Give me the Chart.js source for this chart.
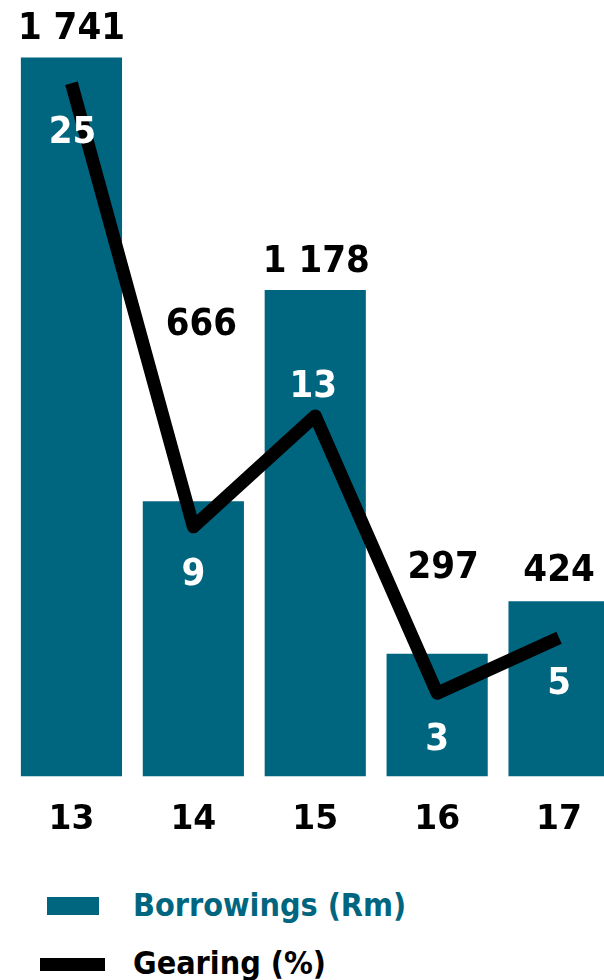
<!DOCTYPE html>
<html>
<head>
<meta charset="utf-8">
<script src="https://cdn.jsdelivr.net/npm/chart.js@4.4.1/dist/chart.umd.min.js"></script>
<style>
  html, body { margin: 0; padding: 0; background: #fff; overflow: hidden; width: 604px; height: 980px; }
  #wrap { position: relative; width: 604px; height: 980px; overflow: hidden; }
  #chart { position: absolute; left: 0; top: 0; }
  .legend-item { position: absolute; left: 0; font-family: "DejaVu Sans", Verdana, sans-serif; font-weight: bold; font-size: 32px; white-space: nowrap; }
  .legend-item span.txt { position: absolute; left: 133px; transform-origin: left center; transform: scaleX(0.9); }
  .swatch { position: absolute; }
</style>
</head>
<body>
<div id="wrap">
  <canvas id="chart" width="620" height="884"></canvas>
  <div class="legend-item" style="top:886px;">
    <div class="swatch" style="left:47px;top:11px;width:52px;height:18px;background:#006680;"></div>
    <span class="txt" style="top:0;color:#006680;">Borrowings (Rm)</span>
  </div>
  <div class="legend-item" style="top:944px;">
    <div class="swatch" style="left:40px;top:14px;width:65px;height:13px;background:#000;"></div>
    <span class="txt" style="top:0;color:#000;">Gearing (%)</span>
  </div>
</div>
<script>
const years = ['13', '14', '15', '16', '17'];
const borrowings = [1741, 666, 1178, 297, 424];
const gearing = [25, 9, 13, 3, 5];

const TEAL = '#006680';
const LABEL_FONT = 'bold 38px "DejaVu Sans", Verdana, sans-serif';

// label nudges in px: [dx, baseline dy]
const borrowLabelShift = [[0, -18], [8, -166], [1, -18], [6, -76], [0, -20]];
const gearLabelShift = [[1, 60], [0, 58], [-2, -19], [0, 57], [0, 56]];

function spaced(v) {
  return String(v).replace(/\B(?=(\d{3})+(?!\d))/g, ' ');
}

function drawText(ctx, text, x, y, color) {
  ctx.save();
  ctx.translate(x, y);
  ctx.scale(0.9, 1);
  ctx.fillStyle = color;
  ctx.font = LABEL_FONT;
  ctx.textAlign = 'center';
  ctx.textBaseline = 'alphabetic';
  ctx.fillText(text, 0, 0);
  ctx.restore();
}

const valueLabels = {
  id: 'valueLabels',
  afterDatasetsDraw(chart) {
    const ctx = chart.ctx;
    const lineMeta = chart.getDatasetMeta(0);
    const barMeta = chart.getDatasetMeta(1);
    barMeta.data.forEach((bar, i) => {
      const [dx, dy] = borrowLabelShift[i];
      drawText(ctx, spaced(borrowings[i]), bar.x + dx, bar.y + dy, '#000');
    });
    lineMeta.data.forEach((pt, i) => {
      const [dx, dy] = gearLabelShift[i];
      drawText(ctx, String(gearing[i]), pt.x + dx, pt.y + dy, '#fff');
    });
  }
};

new Chart(document.getElementById('chart'), {
  data: {
    labels: years,
    datasets: [
      {
        type: 'line',
        label: 'Gearing (%)',
        data: gearing,
        yAxisID: 'y1',
        borderColor: '#000',
        borderWidth: 13,
        borderJoinStyle: 'round',
        borderCapStyle: 'butt',
        pointRadius: 0,
        tension: 0,
        fill: false,
        order: 0
      },
      {
        type: 'bar',
        label: 'Borrowings (Rm)',
        data: borrowings,
        yAxisID: 'y',
        backgroundColor: TEAL,
        barPercentage: 0.83,
        categoryPercentage: 1,
        order: 1
      }
    ]
  },
  options: {
    responsive: false,
    animation: false,
    layout: { padding: { left: 10.5, right: 0, top: 0, bottom: 20 } },
    plugins: { legend: { display: false }, tooltip: { enabled: false } },
    scales: {
      x: {
        grid: { display: false, drawTicks: false },
        border: { display: false },
        ticks: {
          color: '#000',
          padding: 24,
          font: { family: '"DejaVu Sans", Verdana, sans-serif', size: 33, weight: 'bold' }
        }
      },
      y: { display: false, min: 0, max: 1880 },
      y1: { display: false, min: 0, max: 28 }
    }
  },
  plugins: [valueLabels]
});
</script>
</body>
</html>
